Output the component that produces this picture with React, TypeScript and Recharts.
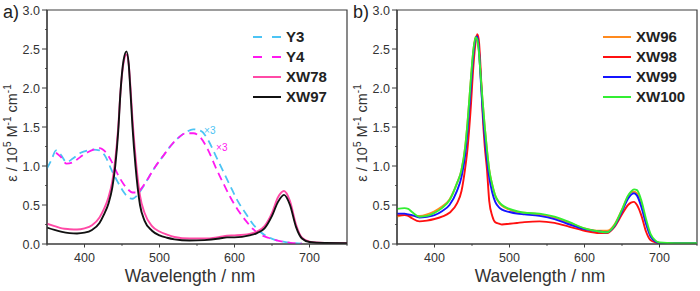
import React from 'react';
import { LineChart, Line, XAxis, YAxis, Legend, ReferenceArea, ReferenceDot } from 'recharts';

// ---- Panel a) ----
const leftWl = [350,360,370,380,390,400,410,420,426,432,437,441,445,448,452,456,459,461,464,468,474,480,490,500,510,520,540,560,580,590,600,620,630,640,650,658,666,674,682,690,700,720,750];
const xw97 = [0.21,0.18,0.155,0.14,0.135,0.145,0.18,0.27,0.38,0.52,0.72,1.0,1.45,1.95,2.35,2.47,2.3,2.0,1.5,1.0,0.5,0.3,0.17,0.11,0.08,0.06,0.045,0.05,0.07,0.085,0.085,0.11,0.14,0.2,0.36,0.54,0.63,0.5,0.22,0.07,0.025,0.012,0.01];
const xw78 = [0.26,0.23,0.2,0.19,0.185,0.2,0.24,0.34,0.45,0.6,0.8,1.08,1.5,1.95,2.32,2.43,2.3,2.05,1.6,1.12,0.62,0.4,0.23,0.16,0.12,0.09,0.07,0.07,0.09,0.105,0.11,0.13,0.16,0.23,0.4,0.6,0.68,0.55,0.25,0.08,0.03,0.015,0.01];

const dyeWl = [350,356,362,368,376,385,395,405,412,420,428,436,444,452,458,464,470,478,486,495,505,515,525,535,545,555,565,575,585,595,605,615,625,635,645,655,665,675,690];
const y3 = [0.97,1.08,1.2,1.15,1.05,1.1,1.17,1.2,1.21,1.2,1.12,0.95,0.8,0.67,0.6,0.58,0.62,0.73,0.86,1.0,1.13,1.26,1.36,1.43,1.47,1.45,1.33,1.13,0.93,0.73,0.54,0.39,0.25,0.15,0.09,0.05,0.03,0.015,0.005];
const y4 = [null,null,1.17,1.12,1.03,1.05,1.12,1.18,1.21,1.23,1.18,1.06,0.9,0.77,0.7,0.66,0.66,0.74,0.86,1.0,1.13,1.26,1.36,1.42,1.42,1.36,1.2,0.98,0.78,0.59,0.43,0.3,0.19,0.12,0.08,0.05,0.03,0.015,0.005];

// ---- Panel b) ----
const rightWl = [350,360,365,370,380,390,400,410,420,430,436,441,444,448,452,455,457,459,462,464,467,470,473,477,481,486,490,500,510,520,540,560,580,600,620,630,640,650,658,662,666,670,676,682,688,695,700,720,750];
const xw96 = [0.35,0.37,0.37,0.36,0.36,0.38,0.42,0.48,0.57,0.78,0.95,1.25,1.55,2.05,2.5,2.66,2.66,2.5,2.1,1.85,1.5,1.2,0.95,0.76,0.62,0.53,0.49,0.44,0.41,0.40,0.38,0.34,0.27,0.2,0.17,0.17,0.25,0.44,0.61,0.66,0.67,0.65,0.5,0.28,0.1,0.03,0.015,0.01,0.01];
const xw98 = [0.37,0.37,0.36,0.33,0.29,0.30,0.32,0.35,0.40,0.52,0.68,0.98,1.22,1.7,2.3,2.6,2.69,2.62,2.15,1.7,1.25,0.95,0.55,0.36,0.28,0.26,0.25,0.26,0.27,0.28,0.29,0.27,0.22,0.17,0.14,0.14,0.22,0.38,0.5,0.53,0.54,0.5,0.36,0.16,0.05,0.02,0.01,0.005,0.005];
const xw99 = [0.39,0.39,0.38,0.37,0.34,0.35,0.37,0.42,0.50,0.68,0.86,1.15,1.45,1.95,2.45,2.64,2.66,2.52,2.05,1.75,1.38,1.08,0.85,0.66,0.54,0.47,0.44,0.41,0.39,0.38,0.36,0.32,0.25,0.19,0.16,0.15,0.23,0.42,0.58,0.63,0.65,0.62,0.47,0.26,0.1,0.03,0.015,0.01,0.01];
const xw100 = [0.45,0.46,0.45,0.41,0.35,0.36,0.40,0.46,0.56,0.78,0.95,1.25,1.55,2.05,2.5,2.65,2.62,2.48,2.1,1.85,1.5,1.2,0.95,0.76,0.62,0.54,0.5,0.45,0.42,0.40,0.39,0.35,0.28,0.2,0.16,0.15,0.24,0.44,0.62,0.67,0.7,0.69,0.55,0.32,0.13,0.04,0.02,0.01,0.01];

const xTicks = [350,400,450,500,550,600,650,700,750];
const yTicks = [0,0.25,0.5,0.75,1,1.25,1.5,1.75,2,2.25,2.5,2.75,3];
const leftNames = ['Y3','Y4','XW78','XW97'];
const rightNames = ['XW96','XW98','XW99','XW100'];
const scaleNote = '×3';

const FONT = '"Liberation Sans", Arial, Helvetica, sans-serif';
const AXIS = '#3c3c3c';
const TXT = '#333';

const pts = (wl: number[], vals: (number | null)[]) => wl.map((w, i) => ({ wl: w, v: vals[i] }));

const XTick = (props: any) => {
  const { x, y, payload } = props;
  const v = payload.value;
  const major = v % 100 === 0;
  return (
    <g>
      <line x1={x} x2={x} y1={y} y2={y + (major ? 3.5 : 1.8)} stroke={AXIS} strokeWidth={1} />
      {major && (
        <text x={x} y={y + 18} textAnchor="middle" fontSize={12.5} fill={TXT} fontFamily={FONT}>{v}</text>
      )}
    </g>
  );
};

const YTick = (props: any) => {
  const { x, y, payload } = props;
  const v = payload.value;
  const major = Math.round(v * 4) % 2 === 0;
  return (
    <g>
      <line x1={x} x2={x - (major ? 5 : 1.8)} y1={y} y2={y} stroke={AXIS} strokeWidth={1} />
      {major && (
        <text x={x - 7} y={y} dy="0.36em" textAnchor="end" fontSize={12.5} fill={TXT} fontFamily={FONT}>{v.toFixed(1)}</text>
      )}
    </g>
  );
};

const YLabel = () => (
  <text transform="translate(17,133) rotate(-90)" textAnchor="middle" fontSize={14.5} fill={TXT} fontFamily={FONT}>
    <tspan>ε / 10</tspan>
    <tspan fontSize={10} dy={-6}>5</tspan>
    <tspan dy={6}> M</tspan>
    <tspan fontSize={10} dy={-6}>-1</tspan>
    <tspan dy={6}> cm</tspan>
    <tspan fontSize={10} dy={-6}>-1</tspan>
  </text>
);

const XLabel = () => (
  <text x={190} y={282} textAnchor="middle" fontSize={17.5} fill={TXT} fontFamily={FONT}>Wavelength / nm</text>
);

type Sty = Record<string, { color: string; dash?: string }>;

const makeLegend = (names: string[], styles: Sty) => (props: any) => {
  const payload: any[] = props.payload || [];
  const shown = names.filter((n) => payload.some((e) => e.value === n));
  return (
    <div style={{ fontFamily: FONT }}>
      {shown.map((name) => {
        const s = styles[name];
        return (
          <div key={name} style={{ display: 'flex', alignItems: 'center', height: 20 }}>
            <svg width={32} height={20} style={{ display: 'block' }}>
              <line x1={1} x2={29} y1={10} y2={10} stroke={s.color} strokeWidth={2} strokeDasharray={s.dash ? '9 10' : undefined} />
            </svg>
            <span style={{ fontWeight: 'bold', fontSize: 15, color: '#222', marginLeft: 2, lineHeight: '20px' }}>{name}</span>
          </div>
        );
      })}
    </div>
  );
};

const leftStyles: Sty = {
  Y3: { color: '#4cc4f4', dash: '8 5' },
  Y4: { color: '#ff19f0', dash: '8 5' },
  XW78: { color: '#ff4aa6' },
  XW97: { color: '#111111' },
};
const rightStyles: Sty = {
  XW96: { color: '#ff8a1e' },
  XW98: { color: '#ff1010' },
  XW99: { color: '#1414ff' },
  XW100: { color: '#33ee33' },
};

const margin = { top: 10, right: 3, left: 0, bottom: 0 };

function Panel(props: { label: string; names: string[]; series: { name: string; data: any[] }[]; styles: Sty; notes?: { x: number; y: number; color: string }[] }) {
  const { label, names, series, styles, notes } = props;
  return (
    <div style={{ position: 'relative', width: 350, height: 291 }}>
      <LineChart width={350} height={291} margin={margin} style={{ fontFamily: FONT }}>
        <XAxis
          dataKey="wl"
          type="number"
          domain={[350, 750]}
          ticks={xTicks}
          interval={0}
          allowDataOverflow
          height={47}
          tickSize={0}
          tickMargin={0}
          tick={<XTick />}
          axisLine={{ stroke: AXIS, strokeWidth: 1.2 }}
          label={<XLabel />}
        />
        <YAxis
          type="number"
          domain={[0, 3]}
          ticks={yTicks}
          interval={0}
          allowDataOverflow
          width={47}
          tickSize={0}
          tickMargin={0}
          tick={<YTick />}
          axisLine={{ stroke: AXIS, strokeWidth: 1.2 }}
          label={<YLabel />}
        />
        <ReferenceArea x1={350} x2={750} y1={0} y2={3} fill="none" stroke={AXIS} strokeWidth={1.2} ifOverflow="visible" />
        {series.map((s) => (
          <Line
            key={s.name}
            name={s.name}
            data={s.data}
            dataKey="v"
            type="monotone"
            stroke={styles[s.name].color}
            strokeWidth={styles[s.name].dash ? 1.8 : 1.9}
            strokeDasharray={styles[s.name].dash}
            dot={false}
            activeDot={false}
            isAnimationActive={false}
          />
        ))}
        {(notes || []).map((n, i) => (
          <ReferenceDot
            key={i}
            x={n.x}
            y={n.y}
            r={0}
            fill="none"
            stroke="none"
            label={{ value: scaleNote, position: 'center', fontSize: 10, fill: n.color, fontFamily: FONT }}
          />
        ))}
        <Legend
          layout="vertical"
          align="center"
          verticalAlign="middle"
          content={makeLegend(names, styles)}
          wrapperStyle={{ position: 'absolute', left: 252, top: 27, width: 100, height: 80 }}
        />
      </LineChart>
      <div style={{ position: 'absolute', left: 3, top: 1, fontFamily: FONT, fontSize: 18, color: '#222', lineHeight: '22px' }}>{label}</div>
    </div>
  );
}

export default function App() {
  const leftSeries = [
    { name: leftNames[0], data: pts(dyeWl, y3) },
    { name: leftNames[1], data: pts(dyeWl, y4) },
    { name: leftNames[2], data: pts(leftWl, xw78) },
    { name: leftNames[3], data: pts(leftWl, xw97) },
  ];
  const rightSeries = [
    { name: rightNames[0], data: pts(rightWl, xw96) },
    { name: rightNames[1], data: pts(rightWl, xw98) },
    { name: rightNames[2], data: pts(rightWl, xw99) },
    { name: rightNames[3], data: pts(rightWl, xw100) },
  ];
  return (
    <div style={{ position: 'absolute', left: 0, top: 0, width: 700, height: 291, background: '#fff', display: 'flex' }}>
      <Panel
        label="a)"
        names={leftNames}
        series={leftSeries}
        styles={leftStyles}
        notes={[
          { x: 567, y: 1.46, color: '#4cc4f4' },
          { x: 583, y: 1.24, color: '#ff19f0' },
        ]}
      />
      <Panel label="b)" names={rightNames} series={rightSeries} styles={rightStyles} />
    </div>
  );
}
